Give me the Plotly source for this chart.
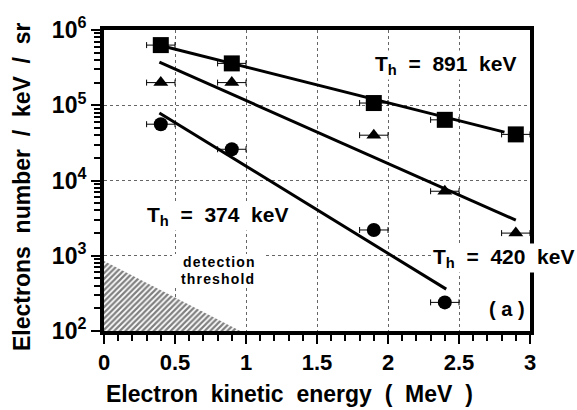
import plotly.graph_objects as go
import numpy as np

# ---- data ----
energy = [0.4, 0.9, 1.9, 2.4, 2.9]
energy_err = [0.1, 0.1, 0.1, 0.1, 0.1]
squares = [6.3e5, 3.6e5, 1.07e5, 6.4e4, 4.1e4]
triangles = [2.0e5, 2.0e5, 4.0e4, 7.2e3, 2.0e3]
circle_energy = [0.4, 0.9, 1.9, 2.4]
circle_err = [0.1, 0.1, 0.1, 0.1]
circles = [5.6e4, 2.6e4, 2.2e3, 2.4e2]

fit891_x = [0.44, 2.82]
fit891_y = [5.95e5, 4.4e4]
fit420_x = [0.39, 2.90]
fit420_y = [3.75e5, 2.97e3]
fit374_x = [0.39, 2.41]
fit374_y = [7.9e4, 3.6e2]

threshold_x = [0, 0, 0.96]
threshold_y = [850, 100, 100]

ytick_vals = [1e2, 1e3, 1e4, 1e5, 1e6]
ytick_text = ["10<sup>2</sup>", "10<sup>3</sup>", "10<sup>4</sup>", "10<sup>5</sup>", "10<sup>6</sup>"]
xtick_vals = [0, 0.5, 1, 1.5, 2, 2.5, 3]
xtick_text = ["0", "0.5", "1", "1.5", "2", "2.5", "3"]

FONT = "Liberation Sans"

fig = go.Figure()

# detection threshold hatched region
fig.add_trace(go.Scatter(
    x=threshold_x, y=threshold_y, mode="lines", fill="toself",
    line=dict(width=0, color="black"),
    fillcolor="white",
    fillpattern=dict(shape="/", fgcolor="black", bgcolor="white", size=4, solidity=0.55),
    hoverinfo="skip", showlegend=False))

for fx, fy in [(fit891_x, fit891_y), (fit420_x, fit420_y), (fit374_x, fit374_y)]:
    fig.add_trace(go.Scatter(x=fx, y=fy, mode="lines",
                             line=dict(color="black", width=3), showlegend=False))

errstyle = dict(type="data", symmetric=True, color="black", thickness=1, width=3)

fig.add_trace(go.Scatter(
    x=energy, y=squares, mode="markers",
    marker=dict(symbol="square", size=16, color="black"),
    error_x=dict(array=energy_err, **errstyle), showlegend=False))
fig.add_trace(go.Scatter(
    x=energy, y=triangles, mode="markers",
    marker=dict(symbol="triangle-up", size=13, color="black"),
    error_x=dict(array=energy_err, **errstyle), showlegend=False))
fig.add_trace(go.Scatter(
    x=circle_energy, y=circles, mode="markers",
    marker=dict(symbol="circle", size=14, color="black"),
    error_x=dict(array=circle_err, **errstyle), showlegend=False))

W, H = 577, 410
L, R, T, B = 104, 47, 30, 79


def px(xp, yp):
    return (xp - L) / (W - L - R), (H - B - yp) / (H - T - B)


def ann(text, xp, yp, size, bg=None, xanchor="center"):
    x, y = px(xp, yp)
    d = dict(text=text, x=x, y=y, xref="paper", yref="paper", showarrow=False,
             xanchor=xanchor, yanchor="middle",
             font=dict(family=FONT, size=size, color="black", weight="bold"))
    if bg:
        d.update(bgcolor=bg, borderpad=1)
    fig.add_annotation(**d)


# white patch behind the "detection threshold" label (hides grid there)
x0, y0 = px(172, 254)
x1, y1 = px(266, 287)
fig.add_shape(type="rect", xref="paper", yref="paper", x0=x0, y0=y0, x1=x1, y1=y1,
              fillcolor="white", line=dict(width=0), layer="above")

sp = "&nbsp;"
ann(f"T<sub>h</sub>{sp}{sp}={sp}{sp}891{sp}{sp}keV", 446, 65, 21, bg="white")
ann(f"T<sub>h</sub>{sp}{sp}={sp}{sp}374{sp}{sp}keV", 218, 216, 21, bg="white")
ann(f"T<sub>h</sub>{sp}{sp}={sp}{sp}420{sp}{sp}keV", 504, 258, 21, bg="white")
ann(f"({sp}a{sp})", 507, 309, 20, bg="white")
ann("d\u200ae\u200at\u200ae\u200ac\u200at\u200ai\u200ao\u200an", 219, 262, 14)
ann("t\u200ah\u200ar\u200ae\u200as\u200ah\u200ao\u200al\u200ad", 217, 279, 14)

# axis titles as annotations
ann(f"Electron{sp}{sp}kinetic{sp}{sp}energy{sp}{sp}({sp}{sp}MeV{sp}{sp})", 289, 394, 23)
fig.add_annotation(text=f"Electrons{sp}{sp}number{sp}{sp}/{sp}{sp}keV{sp}{sp}/{sp}{sp}sr",
                   x=-(L - 22) / (W - L - R), y=(H - B - 187) / (H - T - B),
                   xref="paper", yref="paper", showarrow=False, textangle=-90,
                   xanchor="center", yanchor="middle",
                   font=dict(family=FONT, size=23, color="black", weight="bold"))

fig.update_xaxes(
    range=[0, 3], tickvals=xtick_vals, ticktext=xtick_text,
    showline=True, linewidth=4, linecolor="black", mirror=True,
    ticks="outside", ticklen=9, tickwidth=2, tickcolor="black",
    minor=dict(dtick=0.1, ticks="outside", ticklen=6, tickwidth=2, tickcolor="black", showgrid=False),
    showgrid=True, gridcolor="#666", griddash="dot", gridwidth=1,
    zeroline=False,
    tickfont=dict(family=FONT, size=22, color="black", weight="bold"))
fig.update_yaxes(
    type="log", range=[2, 6], tickvals=ytick_vals, ticktext=ytick_text,
    showline=True, linewidth=4, linecolor="black", mirror=True,
    ticks="outside", ticklen=9, tickwidth=2, tickcolor="black",
    minor=dict(dtick="D1", ticks="outside", ticklen=6, tickwidth=2, tickcolor="black", showgrid=False),
    showgrid=True, gridcolor="#666", griddash="dot", gridwidth=1,
    zeroline=False,
    tickfont=dict(family=FONT, size=23, color="black", weight="bold"))

fig.update_layout(
    width=W, height=H,
    margin=dict(l=L, r=R, t=T, b=B),
    paper_bgcolor="white", plot_bgcolor="white",
    showlegend=False)

fig.write_html("out.html")
